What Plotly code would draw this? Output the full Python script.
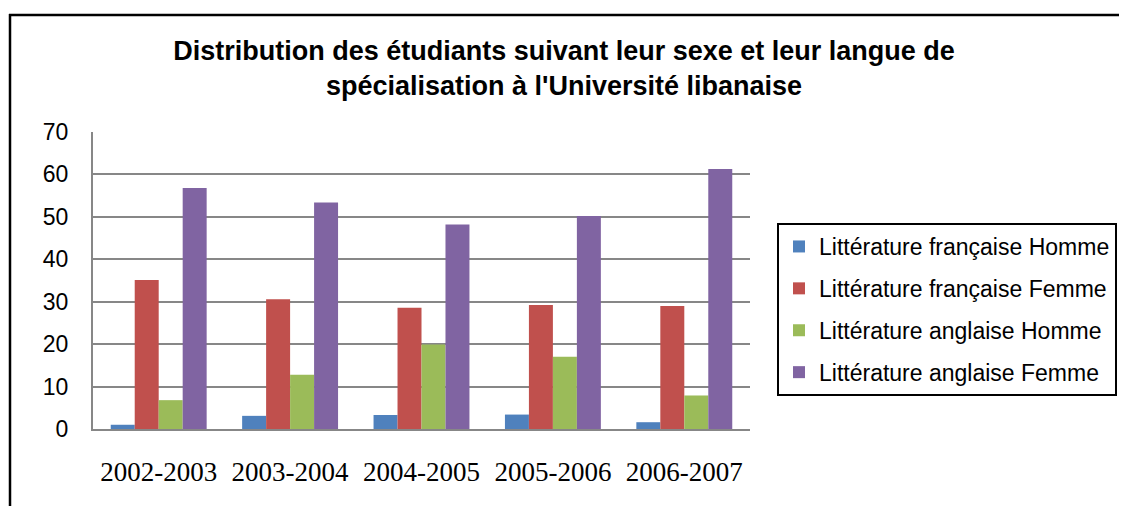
import plotly.graph_objects as go

# school years on the x axis
years = ["2002-2003", "2003-2004", "2004-2005", "2005-2006", "2006-2007"]

# percentages per series
fr_homme = [1.0, 3.1, 3.3, 3.4, 1.6]
fr_femme = [35.1, 30.6, 28.6, 29.2, 29.0]
en_homme = [6.8, 12.8, 19.9, 17.0, 7.9]
en_femme = [56.8, 53.4, 48.2, 50.2, 61.3]

names = [
    "Littérature française Homme",
    "Littérature française Femme",
    "Littérature anglaise Homme",
    "Littérature anglaise Femme",
]
colors = ["#4F81BD", "#C0504D", "#9BBB59", "#8064A2"]

# page body has an 8px margin, so the figure is drawn 8px in from the window
OFF = 8
W, H = 1127 - OFF, 506 - OFF
L, R, T, B = 93 - OFF, 1127 - 750, 131.5 - OFF, 506 - 429.5

fig = go.Figure()
for i, (name, vals) in enumerate(zip(names, [fr_homme, fr_femme, en_homme, en_femme])):
    fig.add_trace(go.Bar(
        x=years, y=vals, name=name,
        legendgroup=f"g{i}",
        marker=dict(color=colors[i], line=dict(width=0)),
    ))

# window pixel -> paper coords
pw, ph = W - L - R, H - T - B
def px_x(p):
    return (p - OFF - L) / pw
def px_y(p):
    return (H - B - (p - OFF)) / ph

# window pixel -> container coords
def cx(p):
    return (p - OFF) / W
def cy(p):
    return 1 - (p - OFF) / H

# outer chart frame (top and left edges visible in the picture)
fig.add_shape(type="line", xref="paper", yref="paper",
              x0=px_x(9), x1=px_x(1135), y0=px_y(14), y1=px_y(14),
              line=dict(color="black", width=2.5))
fig.add_shape(type="line", xref="paper", yref="paper",
              x0=px_x(10), x1=px_x(10), y0=px_y(13), y1=px_y(515),
              line=dict(color="black", width=2.5))

fig.update_layout(
    width=W, height=H,
    margin=dict(l=L, r=R, t=T, b=B, autoexpand=False),
    paper_bgcolor="white",
    plot_bgcolor="white",
    barmode="group",
    bargap=0.27,
    bargroupgap=0,
    font=dict(family="Liberation Sans, Arial", color="black"),
    title=dict(
        text="<b>Distribution des étudiants suivant leur sexe et leur langue de<br>spécialisation à l'Université libanaise</b>",
        x=cx(564), xref="container", xanchor="center",
        y=cy(60), yref="container", yanchor="top",
        font=dict(size=27, family="Liberation Sans, Arial", color="black"),
    ),
    legend=dict(
        xref="container", yref="container",
        x=cx(777), y=cy(223), xanchor="left", yanchor="top",
        bordercolor="black", borderwidth=2,
        font=dict(size=23, family="Liberation Sans, Arial"),
        tracegroupgap=9,
        traceorder="grouped",
    ),
    xaxis=dict(
        showline=True, linecolor="#878787", linewidth=2,
        showgrid=False, ticks="",
        tickfont=dict(size=27, family="Liberation Serif, Times New Roman"),
        ticklabelstandoff=18,
    ),
    yaxis=dict(
        range=[0, 70], dtick=10,
        showline=True, linecolor="#878787", linewidth=2,
        showgrid=True, gridcolor="#878787", gridwidth=2,
        ticks="", zeroline=False,
        tickfont=dict(size=23, family="Liberation Sans, Arial"),
        ticklabelstandoff=18,
    ),
)

fig.write_html("out.html")
